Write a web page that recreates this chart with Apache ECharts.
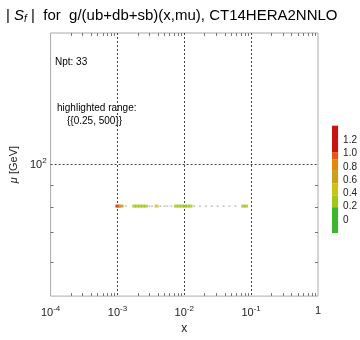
<!DOCTYPE html>
<html>
<head>
<meta charset="utf-8">
<script src="https://cdn.jsdelivr.net/npm/echarts@6/dist/echarts.min.js"></script>
<style>
  html, body { margin: 0; padding: 0; background: #fff; }
  #chart { width: 360px; height: 340px; }
</style>
</head>
<body>
<div id="chart"></div>
<script>
// points: x, |S_f| value (all at mu = M_W)
var xPts = [0.00100, 0.00107, 0.00115, 0.00118, 0.00133,
  0.00178, 0.00197, 0.00218, 0.00241, 0.00266,
  0.00300, 0.00331, 0.00385, 0.00440, 0.00505, 0.00560, 0.00640,
  0.0075, 0.0083, 0.0092, 0.0102, 0.0112, 0.0124,
  0.0140, 0.0172, 0.0210, 0.0258, 0.0316, 0.0388, 0.0475, 0.0582,
  0.0760, 0.0840];
var sVals = [1.10, 0.82, 0.60, 0.15, 0.12,
  0.29, 0.30, 0.28, 0.31, 0.30,
  0.14, 0.18, 0.38, 0.16, 0.13, 0.19, 0.17,
  0.27, 0.30, 0.31, 0.29, 0.30, 0.28,
  0.12, 0.15, 0.18, 0.14, 0.11, 0.16, 0.13, 0.19,
  0.30, 0.27];
var muVal = 80.4;
var hlRange = [0.25, 500];

// colour bar bands
var bandEdges = [-0.2, 0.19, 0.37, 0.55, 0.75, 0.91, 1.02, 1.42];
var bandColors = ['#3db52e', '#a3c61a', '#cbc31a', '#c9a11c', '#e2890c', '#e05a12', '#c8130f'];
var cbTicks = [0, 0.2, 0.4, 0.6, 0.8, 1.0, 1.2];

var xExp = [-4, -3, -2, -1, 0];

function colorOf(v) {
  for (var i = 0; i < bandColors.length; i++) {
    if (v >= bandEdges[i] && v < bandEdges[i + 1]) return bandColors[i];
  }
  return v < bandEdges[0] ? bandColors[0] : bandColors[bandColors.length - 1];
}

var lmu = Math.log10(muVal);
var hiPts = [], loPts = [];
xPts.forEach(function (x, i) {
  var v = sVals[i];
  if (v >= hlRange[0] && v <= hlRange[1]) {
    hiPts.push({ value: [Math.log10(x), lmu], itemStyle: { color: colorOf(v) } });
  } else {
    loPts.push([Math.log10(x), lmu]);
  }
});

// minor ticks (log positions)
var xMinor = [];
for (var d = -4; d < 0; d++) for (var k = 2; k <= 9; k++) xMinor.push(Math.log10(k) + d);
var yMinor = [60, 70, 80, 90].map(function (m) { return Math.log10(m); });

var cbData = bandColors.map(function (c, i) { return [bandEdges[i], bandEdges[i + 1], i]; });

var chart = echarts.init(document.getElementById('chart'));
var font = 'Liberation Sans, Arial, sans-serif';
var gridDash = { type: [2, 2], color: '#444', width: 1 };

chart.setOption({
  animation: false,
  textStyle: { fontFamily: font },
  title: {
    text: '| {i|S}{sub|f} |  for  g/(ub+db+sb)(x,mu), CT14HERA2NNLO',
    left: 1, top: 3,
    textStyle: {
      fontSize: 15, fontWeight: 'normal', color: '#000', fontFamily: font,
      rich: {
        i: { fontSize: 15, fontStyle: 'italic', color: '#000', fontFamily: font },
        sub: { fontSize: 10, fontStyle: 'italic', color: '#000', fontFamily: font, padding: [6, 0, 0, 0] }
      }
    }
  },
  grid: [
    { left: 43, top: 33, width: 275, height: 273, show: true, borderColor: '#aaa', borderWidth: 1 },
    { left: 332, top: 127, width: 10, height: 106 }
  ],
  xAxis: [{
    gridIndex: 0, type: 'value', min: -4, max: 0, interval: 1,
    name: 'x', nameLocation: 'middle', nameGap: 26,
    nameTextStyle: { fontSize: 12, color: '#222' },
    axisLine: { show: false }, axisTick: { show: false },
    splitLine: { show: true, showMinLine: false, showMaxLine: false, lineStyle: gridDash },
    axisLabel: {
      margin: 9, color: '#222',
      formatter: function (v) { return v === 0 ? '{b|1}' : '{b|10}{s|' + v + '}'; },
      rich: {
        b: { fontSize: 11, color: '#222' },
        s: { fontSize: 8, color: '#222', padding: [0, 0, 7, 0] }
      }
    }
  }, {
    gridIndex: 1, type: 'value', min: 0, max: 1, show: false
  }],
  yAxis: [{
    gridIndex: 0, type: 'value', min: 1.7, max: 2.3, interval: 0.1,
    name: '{i|μ} [GeV]', nameLocation: 'middle', nameGap: 26, nameRotate: 90,
    nameTextStyle: { fontSize: 11, color: '#222', rich: { i: { fontSize: 11, fontStyle: 'italic', color: '#222' } } },
    axisLine: { show: false }, axisTick: { show: false }, splitLine: { show: false },
    axisLabel: {
      margin: 4, color: '#222',
      formatter: function (v) { return Math.abs(v - 2) < 1e-6 ? '{b|10}{s|2}' : ''; },
      rich: {
        b: { fontSize: 11, color: '#222' },
        s: { fontSize: 8, color: '#222', padding: [0, 0, 7, 0] }
      }
    }
  }, {
    gridIndex: 1, type: 'value', min: -0.2, max: 1.4, interval: 0.2, position: 'right',
    axisLine: { show: false }, axisTick: { show: false }, splitLine: { show: false },
    axisLabel: {
      margin: 5, fontSize: 10, color: '#222',
      formatter: function (v) {
        var r = Math.round(v * 10) / 10;
        if (cbTicks.indexOf(r) < 0) return '';
        return r === 0 ? '0' : r.toFixed(1);
      }
    }
  }],
  graphic: [
    { type: 'text', left: 55, top: 57, style: { text: 'Npt: 33', fill: '#000', font: '10px ' + font } },
    { type: 'text', left: 57, top: 103, style: { text: 'highlighted range:', fill: '#000', font: '10px ' + font } },
    { type: 'text', left: 67, top: 116, style: { text: '{{0.25, 500}}', fill: '#000', font: '10px ' + font } }
  ],
  series: [
    {
      // minor ticks on the frame
      type: 'custom', xAxisIndex: 0, yAxisIndex: 0, silent: true, z: 1,
      data: [0],
      renderItem: function (params, api) {
        var ch = [];
        var st = { stroke: '#777', lineWidth: 1 };
        var b = api.coord([0, 1.7])[1], t = api.coord([0, 2.3])[1];
        var l = api.coord([-4, 2])[0], r = api.coord([0, 2])[0];
        xMinor.forEach(function (lx) {
          var px = Math.round(api.coord([lx, 2])[0]) + 0.5;
          ch.push({ type: 'line', shape: { x1: px, y1: b, x2: px, y2: b - 3 }, style: st });
          ch.push({ type: 'line', shape: { x1: px, y1: t, x2: px, y2: t + 3 }, style: st });
        });
        yMinor.forEach(function (ly) {
          var py = Math.round(api.coord([-2, ly])[1]) + 0.5;
          ch.push({ type: 'line', shape: { x1: l, y1: py, x2: l + 3, y2: py }, style: st });
          ch.push({ type: 'line', shape: { x1: r, y1: py, x2: r - 3, y2: py }, style: st });
        });
        return { type: 'group', children: ch };
      }
    },
    {
      type: 'line', xAxisIndex: 0, yAxisIndex: 0, data: [], silent: true,
      markLine: {
        silent: true, symbol: 'none', label: { show: false },
        lineStyle: gridDash,
        data: [{ yAxis: 2 }]
      }
    },
    {
      type: 'scatter', xAxisIndex: 0, yAxisIndex: 0, data: loPts,
      symbol: 'rect', symbolSize: [2, 1], itemStyle: { color: '#888' }, z: 3
    },
    {
      type: 'scatter', xAxisIndex: 0, yAxisIndex: 0, data: hiPts,
      symbol: 'rect', symbolSize: [4, 3], z: 4
    },
    {
      type: 'custom', xAxisIndex: 1, yAxisIndex: 1, data: cbData, silent: true,
      renderItem: function (params, api) {
        var p0 = api.coord([0, api.value(0)]);
        var p1 = api.coord([1, api.value(1)]);
        return {
          type: 'rect',
          shape: { x: p0[0], y: p1[1], width: p1[0] - p0[0], height: p0[1] - p1[1] },
          style: { fill: bandColors[api.value(2)] }
        };
      }
    }
  ]
});
</script>
</body>
</html>
